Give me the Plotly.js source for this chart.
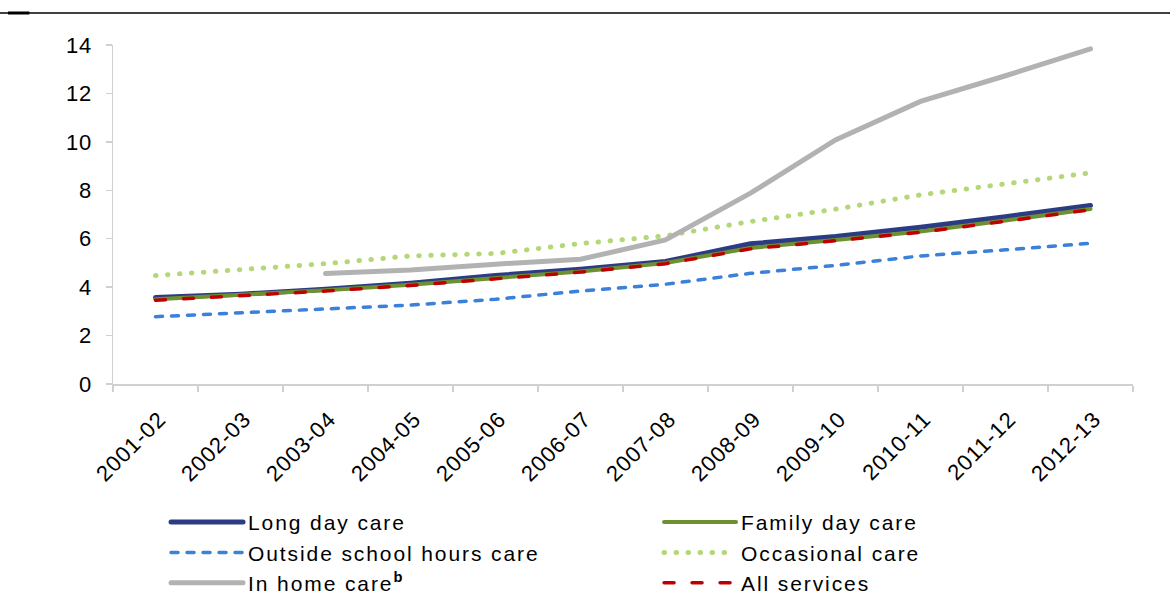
<!DOCTYPE html>
<html>
<head>
<meta charset="utf-8">
<script src="https://cdn.plot.ly/plotly-3.0.1.min.js"></script>
<style>
  html, body { margin: 0; padding: 0; background: #fff; }
  #chart { width: 1170px; height: 597px; }
  .scatterlayer path.js-line, .legendlines path { stroke-linecap: round; }
  .legendtext { letter-spacing: 1.9px; }
  .xtick text { letter-spacing: 1px; }
  .ytick text { letter-spacing: 0.8px; }
</style>
</head>
<body>
<div id="chart"></div>
<script>
const categories = ['2001-02','2002-03','2003-04','2004-05','2005-06','2006-07','2007-08','2008-09','2009-10','2010-11','2011-12','2012-13'];
const longDayCare     = [3.57, 3.71, 3.91, 4.16, 4.48, 4.74, 5.06, 5.79, 6.09, 6.47, 6.91, 7.37];
const familyDayCare   = [3.50, 3.67, 3.87, 4.10, 4.38, 4.65, 5.00, 5.62, 5.95, 6.30, 6.75, 7.23];
const outsideSchool   = [2.78, 2.95, 3.09, 3.26, 3.50, 3.84, 4.12, 4.57, 4.90, 5.29, 5.54, 5.81];
const occasionalCare  = [4.48, 4.74, 4.97, 5.29, 5.39, 5.80, 6.12, 6.71, 7.22, 7.81, 8.29, 8.72];
const inHomeCare      = [null, null, 4.56, 4.71, 4.95, 5.15, 5.95, 7.88, 10.08, 11.67, 12.73, 13.84];
const allServices     = [3.46, 3.64, 3.84, 4.07, 4.35, 4.62, 4.97, 5.58, 5.92, 6.27, 6.72, 7.20];
const seriesNames = ['Long day care', 'Family day care', 'Outside school hours care', 'Occasional care', 'In home care<sup><b>b</b></sup>', 'All services'];

const font = 'Liberation Sans, Arial, sans-serif';
const traces = [
  {y: longDayCare,    name: seriesNames[0], line: {color: '#2B3C84', width: 5}},
  {y: familyDayCare,  name: seriesNames[1], line: {color: '#6E9030', width: 4}},
  {y: outsideSchool,  name: seriesNames[2], line: {color: '#3B80D9', width: 3.5, dash: '7px,9px'}},
  {y: occasionalCare, name: seriesNames[3], line: {color: '#B4D878', width: 5, dash: '0.5px,11.5px'}},
  {y: inHomeCare,     name: seriesNames[4], line: {color: '#B2B2B2', width: 5}},
  {y: allServices,    name: seriesNames[5], line: {color: '#C00000', width: 3.5, dash: '10px,18px'}}
].map(t => Object.assign({x: categories, type: 'scatter', mode: 'lines', hoverinfo: 'skip'}, t));

const layout = {
  width: 1170, height: 597,
  margin: {l: 113, r: 37, t: 45, b: 213, autoexpand: false},
  paper_bgcolor: '#fff', plot_bgcolor: '#fff',
  font: {family: font, size: 21, color: '#000'},
  showlegend: true,
  xaxis: {
    type: 'category', tickson: 'boundaries', ticks: 'outside', ticklen: 6,
    tickcolor: '#D0D0D0', tickwidth: 1.5, showline: true, linecolor: '#D0D0D0', linewidth: 1.5,
    showgrid: false, zeroline: false, tickangle: -45, tickfont: {family: font, size: 22, color: '#000'},
    ticklabelshift: 4, ticklabelstandoff: 12,
    range: [-0.5, 11.5]
  },
  yaxis: {
    range: [0, 14], dtick: 2, ticks: 'outside', ticklen: 6, tickcolor: '#D0D0D0', tickwidth: 1.5,
    showline: true, linecolor: '#D0D0D0', linewidth: 1.5, showgrid: false, zeroline: false,
    tickfont: {family: font, size: 22, color: '#000'}, ticklabelstandoff: 9
  },
  legend: {
    orientation: 'h', x: 0.052, xanchor: 'left', y: -0.348, yanchor: 'top',
    entrywidth: 406, entrywidthmode: 'pixels', itemwidth: 72, traceorder: 'normal',
    font: {family: font, size: 21, color: '#000'}, bgcolor: 'rgba(0,0,0,0)', tracegroupgap: 0
  },
  shapes: [
    {type: 'line', xref: 'paper', yref: 'paper', x0: -0.111, x1: 1.037, y0: 1.0944, y1: 1.0944,
     line: {color: '#000', width: 1.5}},
    {type: 'line', xref: 'paper', yref: 'paper', x0: -0.103, x1: -0.082, y0: 1.0944, y1: 1.0944,
     line: {color: '#000', width: 3}}
  ]
};

Plotly.newPlot('chart', traces, layout, {staticPlot: true, displayModeBar: false});
</script>
</body>
</html>
